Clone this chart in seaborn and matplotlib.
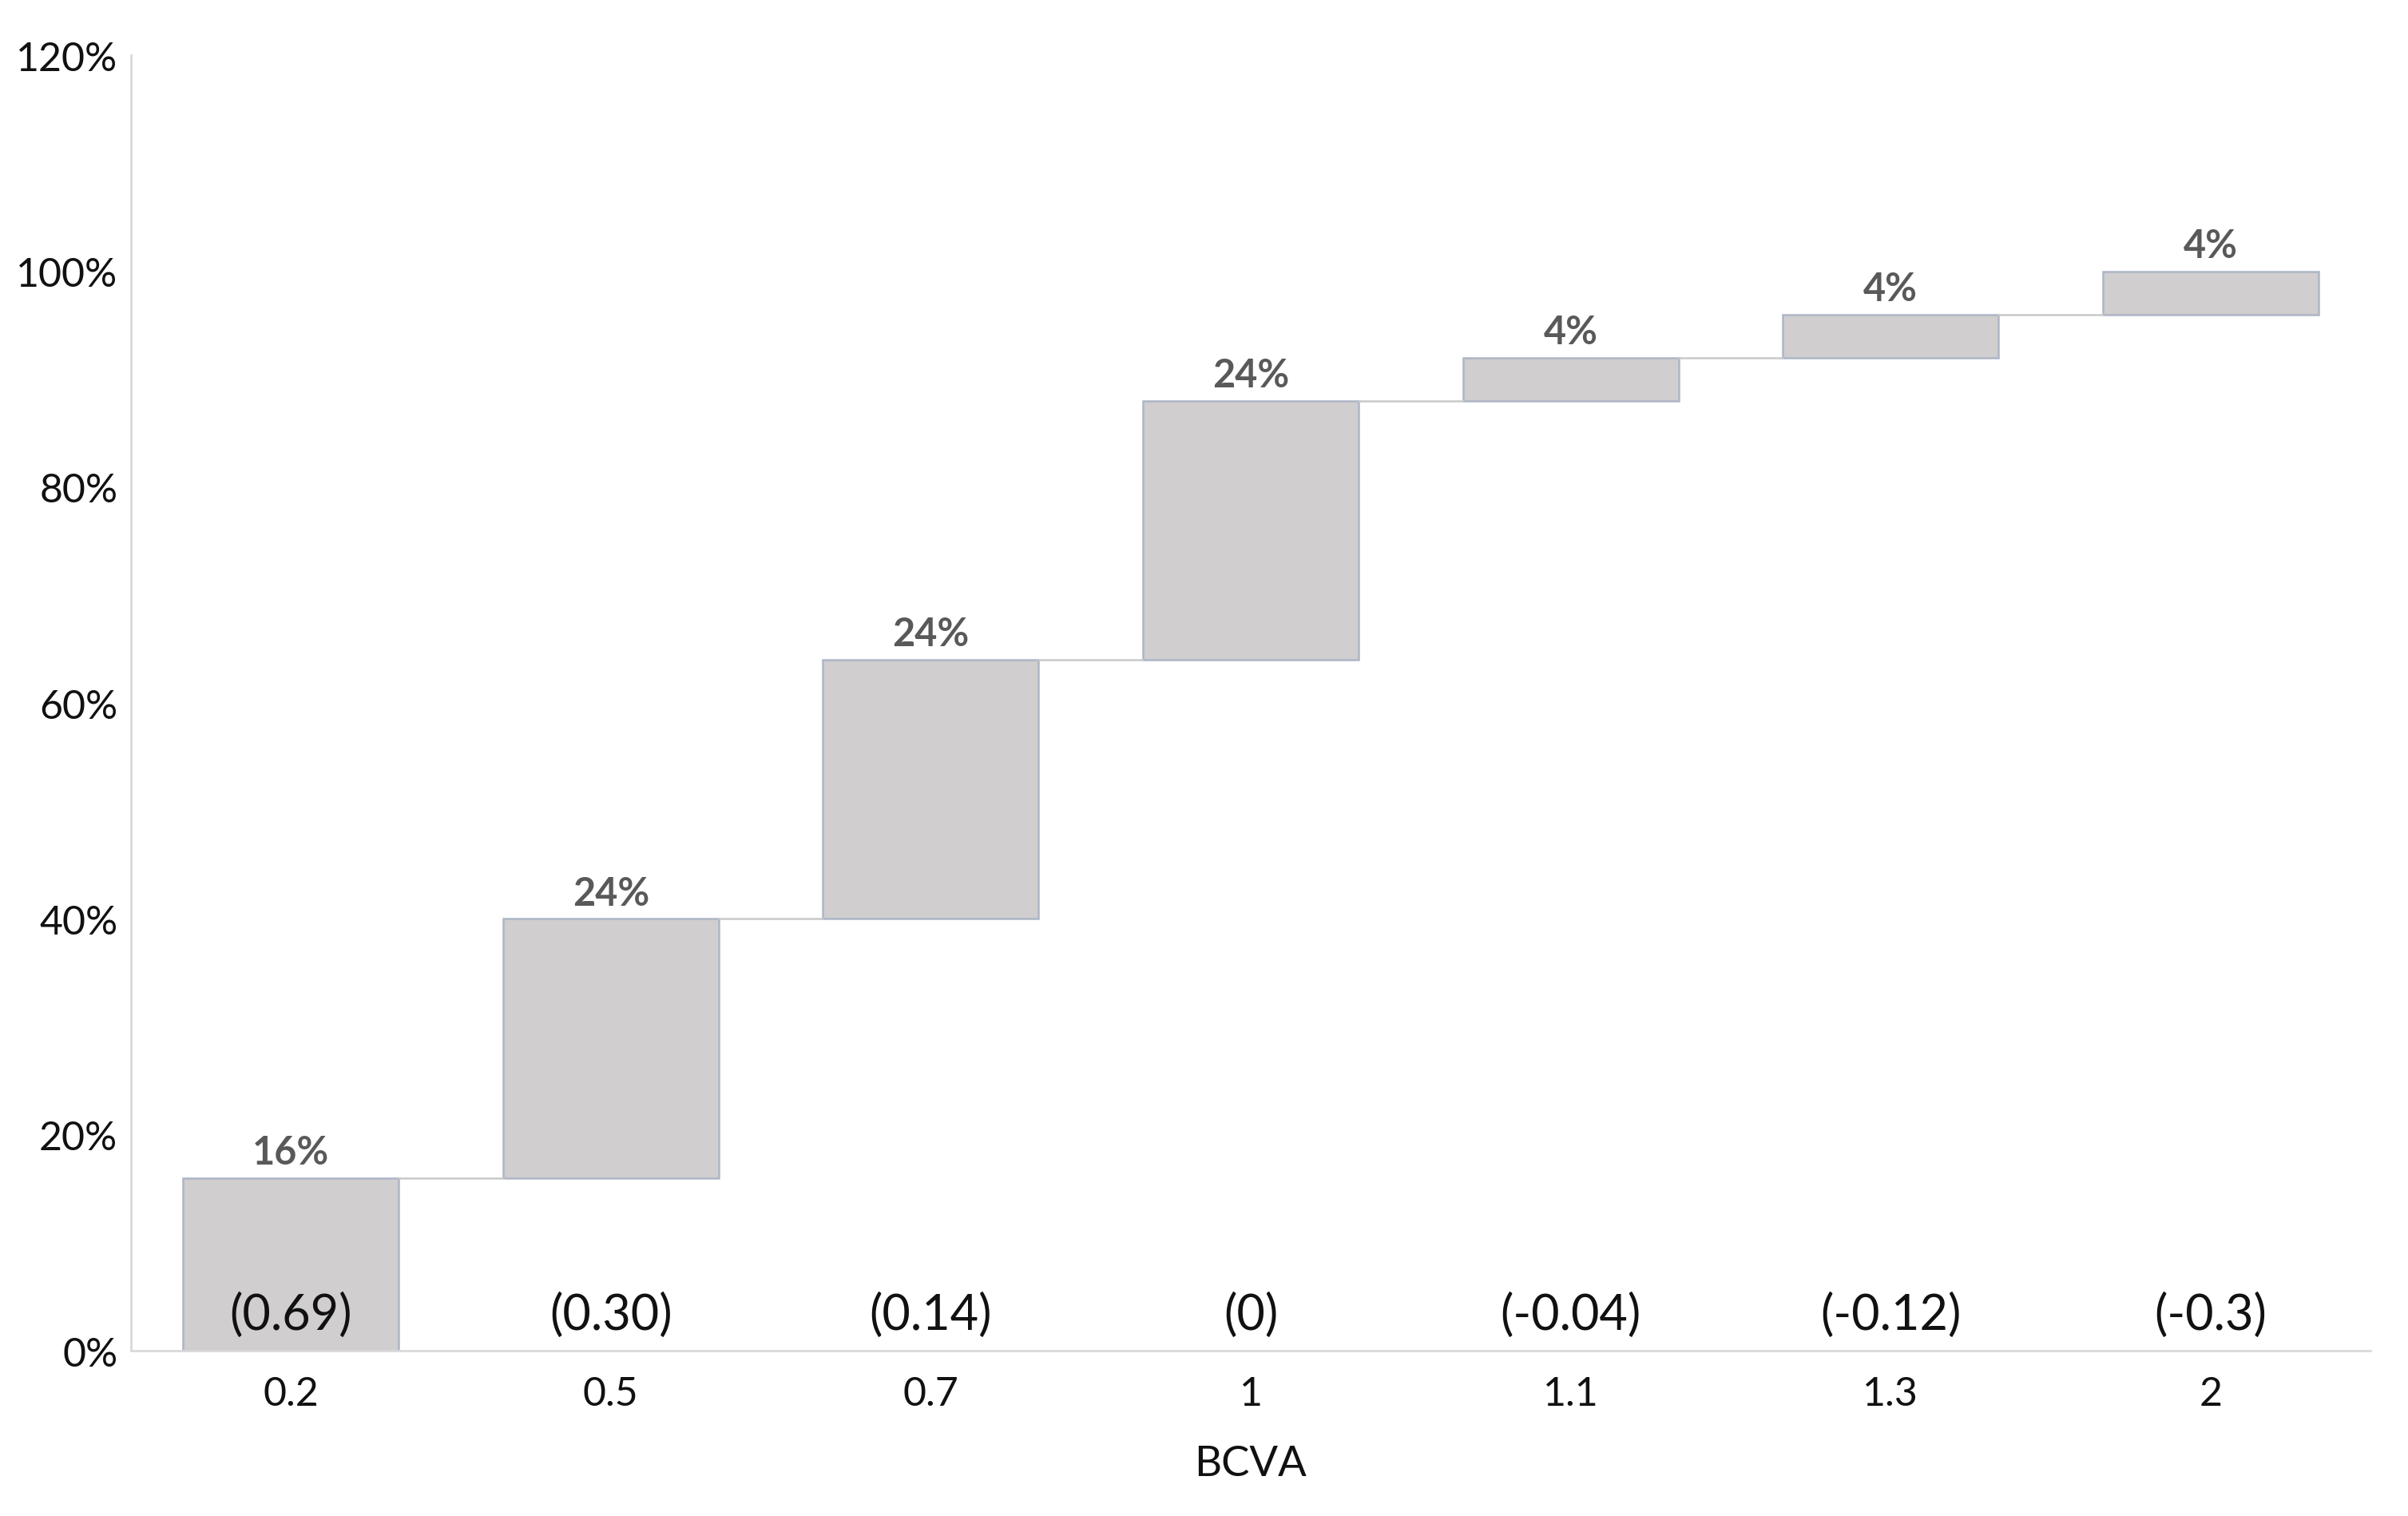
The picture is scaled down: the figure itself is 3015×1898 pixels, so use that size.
import matplotlib
matplotlib.use("Agg")
import matplotlib.pyplot as plt
import seaborn as sns
import numpy as np
import pandas as pd

# ---- data ----
bcva = ["0.2", "0.5", "0.7", "1", "1.1", "1.3", "2"]
logmar = ["(0.69)", "(0.30)", "(0.14)", "(0)", "(-0.04)", "(-0.12)", "(-0.3)"]
share = [16, 24, 24, 24, 4, 4, 4]          # percent in each BCVA group
yticks = [0, 20, 40, 60, 80, 100, 120]

bottoms = np.concatenate([[0], np.cumsum(share)[:-1]])
tops = np.cumsum(share)
df = pd.DataFrame({"BCVA": bcva, "share": share})

sns.set_theme(style="white")
plt.rcParams["font.family"] = ["Lato", "DejaVu Sans"]

fig = plt.figure(figsize=(30.15, 18.99), dpi=100)
ax = fig.add_axes([0.0544, 0.109, 0.930, 0.854])

bar_w = 0.674
sns.barplot(data=df, x="BCVA", y="share", order=bcva, bottom=bottoms,
            color="#D0CECE", saturation=1, width=bar_w,
            edgecolor="#ADB5C6", linewidth=1.8, ax=ax)

# connector lines
for i in range(len(share) - 1):
    ax.plot([i + bar_w / 2, i + 1 - bar_w / 2], [tops[i], tops[i]],
            color="#C9C9C9", lw=1.8, zorder=1)

# value labels above bars
for i, (v, t) in enumerate(zip(share, tops)):
    ax.annotate(f"{v}%", (i, t), xytext=(0, 7), textcoords="offset points",
                ha="center", va="bottom", fontsize=35, fontweight="bold",
                color="#595959")

# logMAR labels near the bottom
for i, lab in enumerate(logmar):
    ax.text(i, 3.3, lab, ha="center", va="center", fontsize=44, color="#111111")

ax.set_xlim(-0.5, 6.5)
ax.set_ylim(0, 120)
ax.set_yticks(yticks)
ax.set_yticklabels([f"{v}%" for v in yticks])
ax.tick_params(axis="both", length=0, labelsize=36, colors="#111111")
ax.tick_params(axis="x", pad=22)
ax.tick_params(axis="y", pad=12)
ax.set_ylabel("")
ax.set_xlabel("BCVA", fontsize=38, color="#111111", labelpad=30)

for s in ["top", "right"]:
    ax.spines[s].set_visible(False)
for s in ["left", "bottom"]:
    ax.spines[s].set_color("#D9D9D9")
    ax.spines[s].set_linewidth(2)
ax.grid(False)

fig.savefig("out.png", dpi=100, facecolor="white")
